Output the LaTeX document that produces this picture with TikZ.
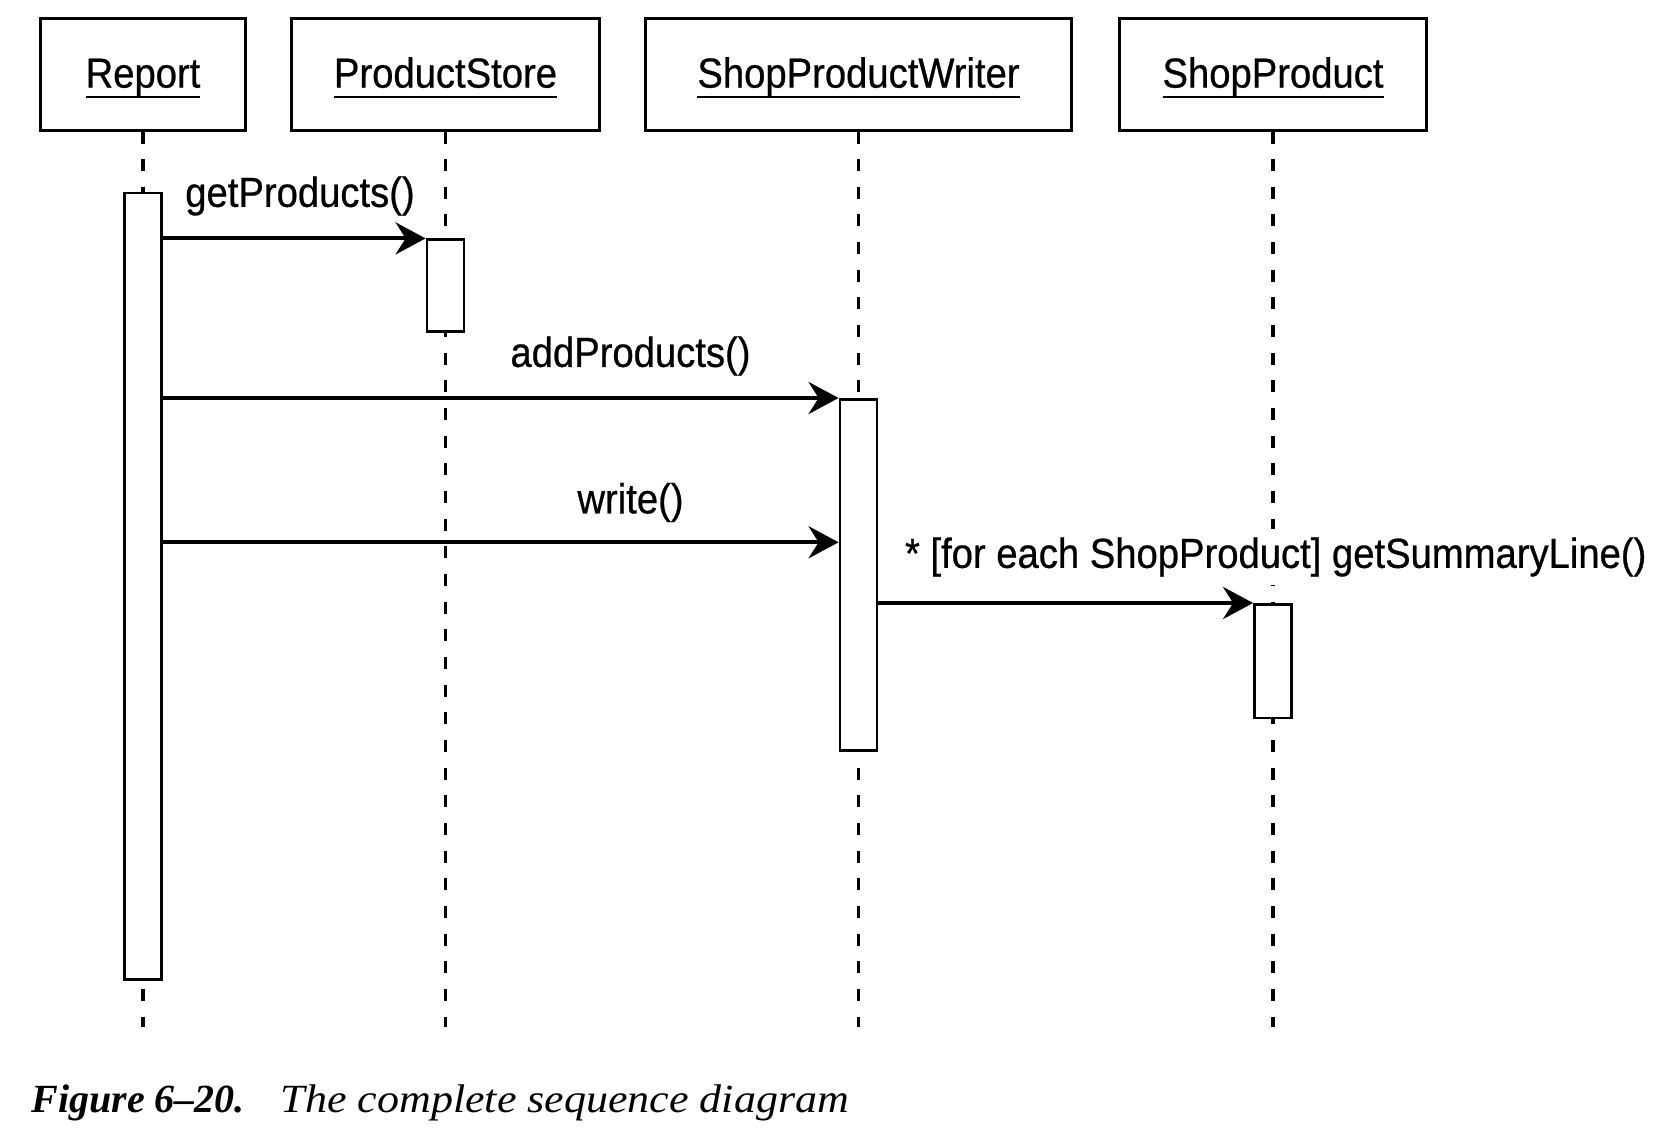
\documentclass[tikz,border=0pt]{standalone}
\usepackage{fontspec}
\setsansfont[FakeStretch=0.91, FakeBold=0.6]{Liberation Sans}
\newfontfamily\capfont[FakeStretch=1.1]{Liberation Serif}
\newfontfamily\capbold{Liberation Serif}
\usepackage{tikz}
\usetikzlibrary{arrows.meta}
\newcommand{\ulname}[1]{\setbox0=\hbox{#1}\hbox{\vrule width0pt height19pt\rlap{\copy0}\lower5.4pt\hbox{\vrule width\wd0 height1.4pt depth0pt}}}
\tikzset{
    head/.style={draw, line width=1.5pt, minimum height=56pt, inner sep=0pt, font=\sffamily\fontsize{21}{24}\selectfont},
    act/.style={draw, line width=1.3pt, fill=white, minimum width=18.6pt, inner sep=0pt, anchor=north},
    life/.style={line width=1.6pt, dash pattern=on 6pt off 7.83pt},
    msg/.style={line width=2pt, -{Stealth[length=15pt, width=16pt, inset=5pt]}},
    lbl/.style={font=\sffamily\fontsize{21}{24}\selectfont, fill=white, inner xsep=0pt, inner ysep=4pt}
}

\begin{document}
\begin{tikzpicture}[x=0.5pt, y=-0.5pt]
\useasboundingbox (0,0) rectangle (1670,1136);

\begin{scope}[every node/.style={head}]
    \node[minimum width=102.2pt] (report) at (143,74) {\ulname{Report}};
    \node[minimum width=153.9pt] (store) at (445.5,74) {\ulname{ProductStore}};
    \node[minimum width=213.4pt] (writer) at (858.5,74) {\ulname{ShopProductWriter}};
    \node[minimum width=153.3pt] (product) at (1273,74) {\ulname{ShopProduct}};
\end{scope}

\coordinate (bottom) at (0,1027);
\draw[life] (report.south)--(report.south |- bottom);
\draw[life] (store.south)--(store.south |- bottom);
\draw[life] (writer.south)--(writer.south |- bottom);
\draw[life] (product.south)--(product.south |- bottom);

\node[act, minimum height=393.3pt] (reportact) at (143,191.6) {};
\node[act, minimum height=45.8pt] (storeact) at (445.5,238.4) {};
\node[act, minimum height=175.7pt] (writeract) at (858.5,398) {};
\node[act, minimum height=56.8pt] (productact) at (1273,603) {};

\node[lbl] (getp) at (300,196) {getProducts()};
\node[lbl] (addp) at (630.5,356) {addProducts()};
\node[lbl] (wrt) at (630.5,502.5) {write()};
\node[lbl] (summary) at (1275.7,557) {* [for each ShopProduct] getSummaryLine()};

\coordinate (w) at (0,542.3);
\draw[msg] (reportact.east |- storeact.north)--(storeact.north west);
\draw[msg] (reportact.east |- writeract.north)--(writeract.north west);
\draw[msg] (reportact.east |- w)--(writeract.west |- w);
\draw[msg] (writeract.east |- productact.north)--(productact.north west);

\node[anchor=base west, inner sep=0pt, font=\capfont\itshape\fontsize{20}{24}\selectfont] (caption) at (31,1112)
    {{\capbold\bfseries\itshape Figure 6–20.}\hspace{18pt}The complete sequence diagram};

\end{tikzpicture}
\end{document}
